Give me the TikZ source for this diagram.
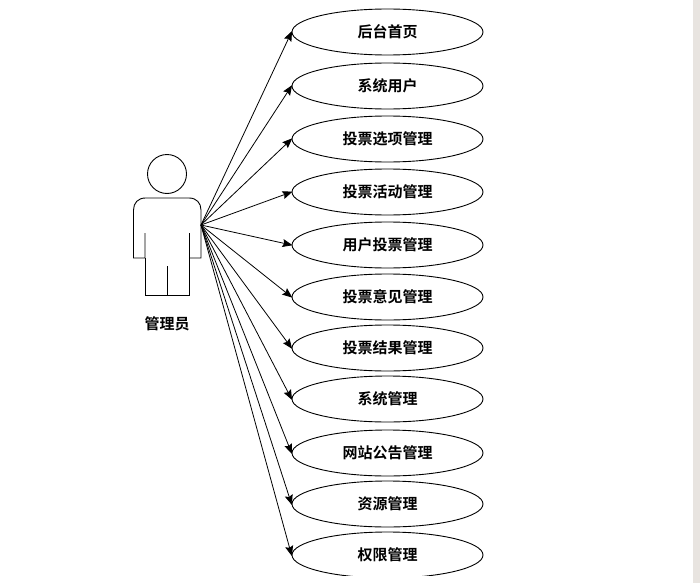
\documentclass[tikz,border=0pt]{standalone}
\usepackage{fontspec}
\newfontfamily\cjk{Noto Sans CJK SC}[BoldFont={Noto Sans CJK SC Bold}]
\usetikzlibrary{arrows.meta,shapes.geometric}
\definecolor{strip}{RGB}{232,228,224}
\tikzset{
  uc/.style={draw=black,fill=white,ellipse,line width=0.9pt,minimum width=191pt,minimum height=46pt,inner sep=0pt,font=\cjk\bfseries\fontsize{15pt}{15pt}\selectfont},
  link/.style={draw=black,line width=0.8pt,-{Stealth[length=10pt,width=8pt,inset=1.5pt]},shorten >=-1pt},
  actorline/.style={draw=black,line width=0.9pt,line join=miter}
}
\begin{document}
\begin{tikzpicture}[x=1pt,y=-1pt]
\useasboundingbox (0,0) rectangle (700,583);
\fill[white] (0,0) rectangle (700,583);
\fill[strip] (692.5,0) rectangle (700,583);
\foreach \n/\yy/\t in {a/32/后台首页,b/86/系统用户,c/139/投票选项管理,d/192/投票活动管理,e/245/用户投票管理,f/297/投票意见管理,g/348/投票结果管理,h/399/系统管理,i/453/网站公告管理,j/504/资源管理,k/555/权限管理}{
  \node[uc] (\n) at (387.5,\yy) {\t};
}
\fill[white] (280,575.5) rectangle (500,583);
\coordinate (hub) at (201,225);
\foreach \n in {a,b,c,d,e,f,g,h,i,j,k}{
  \draw[link] (hub) -- (\n.west);
}
\node[draw=black,line width=0.9pt,circle,minimum size=39pt,inner sep=0pt] (head) at (167,174) {};
\draw[actorline] (145,233) -- (145,258) -- (133.5,258) -- (133.5,210) .. controls (133.5,203) and (138,198) .. (145.5,198) -- (189,198) .. controls (196.5,198) and (201,203) .. (201,210) -- (201,258) -- (189.5,258) -- (189.5,233);
\draw[actorline] (145,258) -- (145,295.5) -- (189.5,295.5) -- (189.5,258);
\draw[actorline] (167,266) -- (167,295.5);
\node[font=\cjk\bfseries\fontsize{15pt}{15pt}\selectfont] (actor) at (167,324) {管理员};
\end{tikzpicture}
\end{document}
